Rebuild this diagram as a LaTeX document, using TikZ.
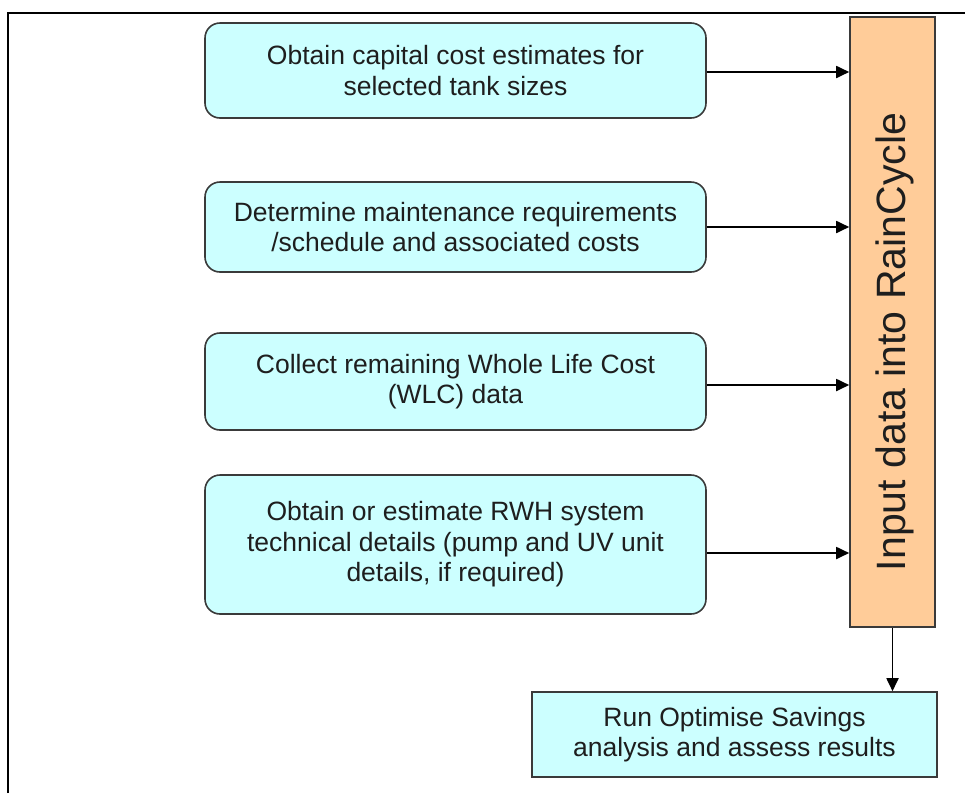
\documentclass[tikz,border=0pt]{standalone}
\usepackage{fontspec}
\setmainfont{Liberation Sans}
\usepackage{tikz}
\usetikzlibrary{arrows.meta,positioning,calc}
\definecolor{StepCyan}{HTML}{CCFFFF}
\definecolor{InputOrange}{HTML}{FFCC99}
\definecolor{EdgeGrey}{HTML}{3A3A3A}
\definecolor{TextGrey}{HTML}{1E1E1E}
\tikzset{
  rc/step/.style={draw=EdgeGrey, line width=1.6pt, rounded corners=15pt, fill=StepCyan, align=center,
    minimum width=501pt, inner sep=0pt, text=TextGrey, font=\fontsize{26.5}{30.5}\selectfont},
  rc/input/.style={draw=EdgeGrey, line width=1.6pt, fill=InputOrange, minimum width=85pt, minimum height=610pt,
    inner sep=0pt},
  rc/result/.style={draw=EdgeGrey, line width=1.6pt, fill=StepCyan, align=center, minimum width=405pt,
    minimum height=85pt, inner sep=0pt, text=TextGrey, font=\fontsize{26.5}{30.5}\selectfont},
  rc/arr/.style={line width=1.8pt, -{Triangle[length=13pt,width=12pt]}},
  rc/frame/.style={line width=2.5pt}
}
\begin{document}
\begin{tikzpicture}[x=1pt,y=-1pt]
  \useasboundingbox (0,0) rectangle (965,793);
  % frame
  \draw[rc/frame] (8,793) -- (8,13) -- (965,13);
  % steps
  \node[rc/step, minimum height=95pt] (cap) at (455.5,70.5) {Obtain capital cost estimates for\\selected tank sizes};
  \node[rc/step, minimum height=90pt] (maint) at (455.5,227) {Determine maintenance requirements\\/schedule and associated costs};
  \node[rc/step, minimum height=97pt] (wlc) at (455.5,381.5) {Collect remaining Whole Life Cost\\(WLC) data};
  \node[rc/step, minimum height=139pt] (tech) at (455.5,544.5) {Obtain or estimate RWH system\\technical details (pump and UV unit\\details, if required)};
  \node[rc/input] (input) at (892.5,322) {};
  \node[rotate=90, text=TextGrey, font=\fontsize{41}{47}\selectfont] (inlabel) at ([xshift=2pt,yshift=-20pt]input.center) {Input data into RainCycle};
  \node[rc/result] (run) at (734.5,734.5) {Run Optimise Savings\\analysis and assess results};
  % arrows
  \draw[rc/arr] ([yshift=-1.5pt]cap.east) -- ([yshift=-1.5pt]cap.east -| input.west);
  \draw[rc/arr] (maint.east) -- (maint.east -| input.west);
  \draw[rc/arr] ([yshift=-3.5pt]wlc.east) -- ([yshift=-3.5pt]wlc.east -| input.west);
  \draw[rc/arr] ([yshift=-8.5pt]tech.east) -- ([yshift=-8.5pt]tech.east -| input.west);
  \draw[rc/arr] (input.south) -- (input.south |- run.north);
\end{tikzpicture}
\end{document}
